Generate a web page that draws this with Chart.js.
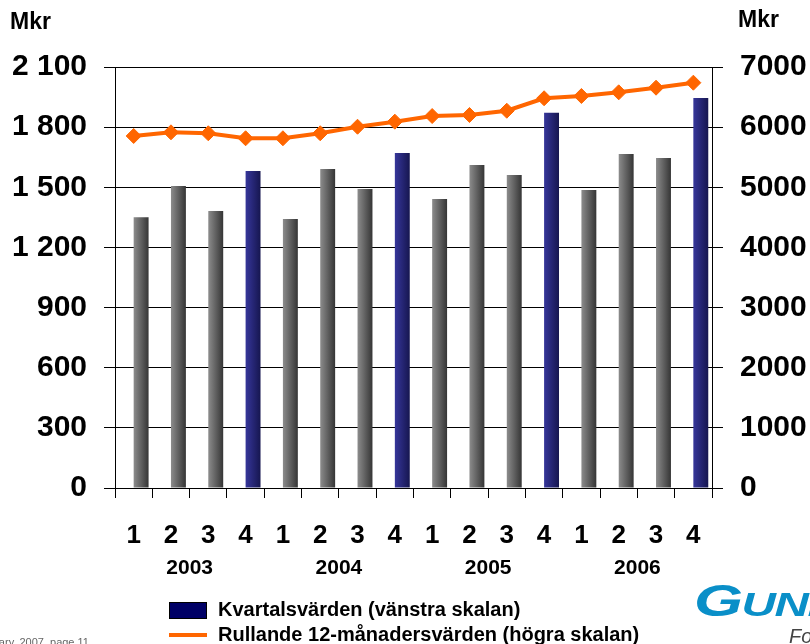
<!DOCTYPE html>
<html>
<head>
<meta charset="utf-8">
<script src="https://cdn.jsdelivr.net/npm/chart.js@4"></script>
<style>
body{margin:0;background:#fff;font-family:"Liberation Sans",Arial,sans-serif;}
#wrap{position:relative;width:810px;height:644px;overflow:hidden;}
.mkr{position:absolute;font-weight:bold;font-size:23px;color:#000;}
.leg{position:absolute;left:169px;font-weight:bold;font-size:20px;color:#000;white-space:nowrap;}
.leg .sym{position:absolute;left:0;}
.leg span.t{position:absolute;left:49px;top:0;}
</style>
</head>
<body>
<div id="wrap">
<canvas id="salesChart" width="810" height="644"></canvas>
<div class="mkr" style="left:10px;top:8px">Mkr</div>
<div class="mkr" style="left:738px;top:6px">Mkr</div>

<div class="leg" style="top:598px"><div class="sym" style="top:4px;width:36px;height:15px;background:#000066;border:1px solid #000"></div><span class="t">Kvartalsvärden (vänstra skalan)</span></div>
<div class="leg" style="top:623px"><div class="sym" style="top:10px;width:38px;height:4px;background:#ff6600"></div><span class="t">Rullande 12-månadersvärden (högra skalan)</span></div>

<div style="position:absolute;left:-25px;top:636px;font-size:11px;color:#666;white-space:nowrap">January, 2007, page 11</div>
<div style="position:absolute;left:694px;top:575px;font-size:45px;font-weight:900;font-style:italic;color:#0a8fc8;white-space:nowrap;transform:scaleX(1.4);transform-origin:0 0;letter-spacing:-1px">G<span style="font-size:34px">UNNEBO</span></div>
<div style="position:absolute;left:789px;top:625px;font-size:20px;font-style:italic;color:#444;white-space:nowrap">For a safer world</div>
</div>

<script>
// Data

const quarters=["1","2","3","4","1","2","3","4","1","2","3","4","1","2","3","4"];
const years=["2003","2004","2005","2006"];

const quarterValues=[1350,1506,1382,1581,1342,1591,1491,1671,1442,1611,1561,1872,1486,1666,1646,1945];
const rollingValues=[5853,5914,5898,5815,5815,5898,6007,6091,6185,6202,6273,6480,6518,6579,6656,6739];

const leftTicks=["0","300","600","900","1 200","1 500","1 800","2 100"];
const rightTicks=["0","1000","2000","3000","4000","5000","6000","7000"];

const font="'Liberation Sans', Arial, sans-serif";

// bar colours, Q4 blue, others grey, shaded left to right
function barColor(c){
const chart=c.chart;
const area=chart.chartArea;
const isQ4=c.dataIndex%4===3;
if(!area) return isQ4?"#2a2a80":"#666666";
const x=chart.scales.x.getPixelForValue(c.dataIndex);
const w=area.width/quarters.length*0.4;
const g=chart.ctx.createLinearGradient(x,0,x+w,0);
if(isQ4){
g.addColorStop(0,"#36369a");
g.addColorStop(1,"#161650");
}else{
g.addColorStop(0,"#8c8c8c");
g.addColorStop(1,"#353535");
}
return g;
}

const ctx=document.getElementById("salesChart");

new Chart(ctx,{
type:"bar",
data:{
labels:quarters,
datasets:[{
type:"line",
label:"Rullande 12-månadersvärden (högra skalan)",
data:rollingValues,
yAxisID:"y2",
borderColor:"#ff6600",
borderWidth:4,
pointStyle:"rectRot",
pointRadius:7.5,
pointBorderWidth:1,
pointBackgroundColor:"#ff6600",
pointBorderColor:"#ff6600",
tension:0,
order:0
},{
label:"spacer",
data:quarters.map(()=>null),
yAxisID:"y",
order:1
},{
label:"Kvartalsvärden (vänstra skalan)",
data:quarterValues,
yAxisID:"y",
backgroundColor:barColor,
order:2
}]
},
options:{
responsive:false,
animation:false,
events:[],
layout:{padding:{top:67,left:0,right:0,bottom:61}},
plugins:{legend:{display:false},tooltip:{enabled:false}},
datasets:{bar:{categoryPercentage:0.8,barPercentage:1.0}},
scales:{
x:{
position:"bottom",
offset:true,
grid:{drawOnChartArea:false,offset:true,tickLength:10,color:"#000",lineWidth:1},
border:{color:"#000",width:1},
ticks:{color:"#000",font:{family:font,size:26,weight:"bold"},padding:22,maxRotation:0,autoSkip:false},
afterFit:s=>{s.height=60;}
},
x2:{
type:"category",
labels:years,
position:"bottom",
weight:1,
offset:true,
grid:{display:false,drawTicks:false},
border:{display:false},
ticks:{color:"#000",font:{family:font,size:21,weight:"bold"},padding:8},
afterFit:s=>{s.height=35;}
},
y:{
position:"left",
min:0,max:2100,
ticks:{stepSize:300,color:"#000",font:{family:font,size:30,weight:"bold"},padding:17,callback:(v,i)=>leftTicks[i]},
grid:{color:"#000",lineWidth:1,tickLength:11},
border:{color:"#000",width:1},
afterFit:s=>{s.width=115;}
},
y2:{
position:"right",
min:0,max:7000,
ticks:{stepSize:1000,color:"#000",font:{family:font,size:30,weight:"bold"},padding:17,callback:(v,i)=>rightTicks[i]},
grid:{drawOnChartArea:false,color:"#000",lineWidth:1,tickLength:11},
border:{color:"#000",width:1},
afterFit:s=>{s.width=98;}
}
}
}
});
</script>
</body>
</html>
